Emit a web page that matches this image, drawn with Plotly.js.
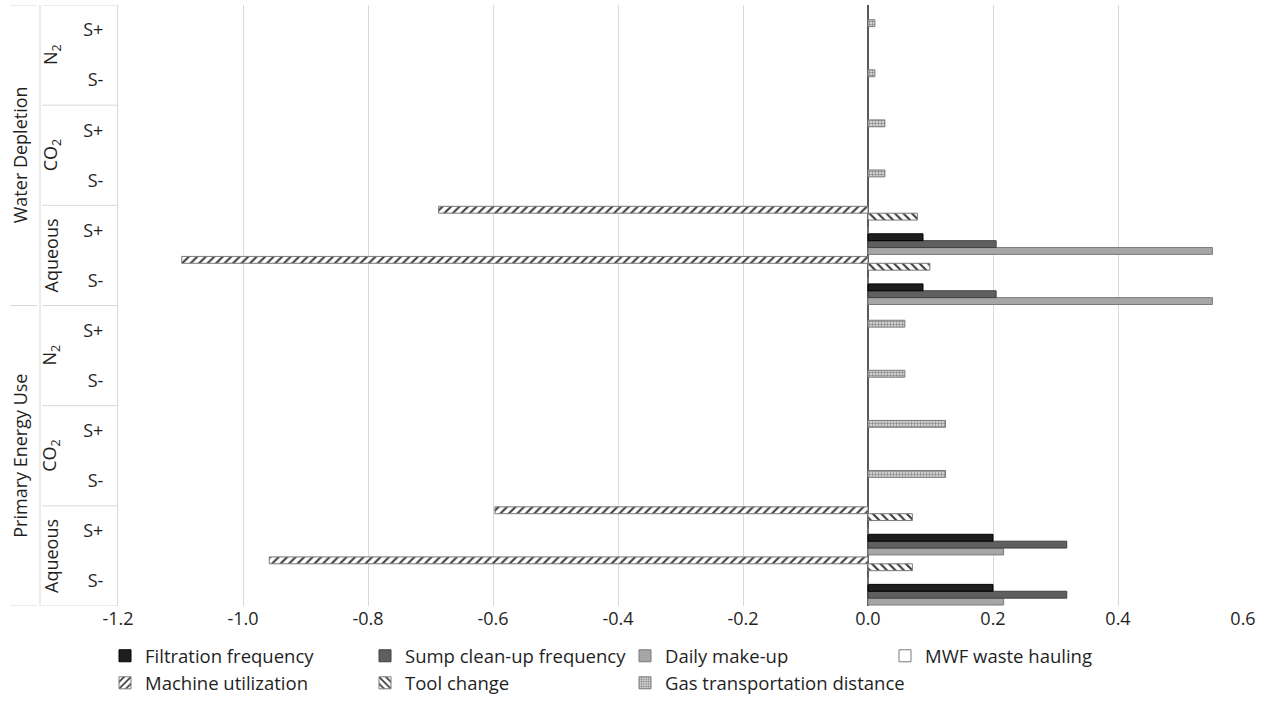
<!DOCTYPE html>
<html>
<head>
<meta charset="utf-8">
<script src="https://cdn.plot.ly/plotly-3.0.1.min.js"></script>
<style>html,body{margin:0;padding:0;background:#fff;}#chart{width:1274px;height:722px;}</style>
</head>
<body>
<div id="chart"></div>
<script>
// Category rows, listed bottom to top
const impactOfRow   = ['Primary Energy Use','Primary Energy Use','Primary Energy Use','Primary Energy Use','Primary Energy Use','Primary Energy Use',
                       'Water Depletion','Water Depletion','Water Depletion','Water Depletion','Water Depletion','Water Depletion'];
const fluidOfRow    = ['Aqueous','Aqueous','CO2','CO2','N2','N2','Aqueous','Aqueous','CO2','CO2','N2','N2'];
const scenarioOfRow = ['S-','S+','S-','S+','S-','S+','S-','S+','S-','S+','S-','S+'];

const impactNames = ['Primary Energy Use','Water Depletion'];
const fluidNames  = ['Aqueous','CO<sub>2</sub>','N<sub>2</sub>'];

const xTickVals  = [-1.2,-1.0,-0.8,-0.6,-0.4,-0.2,0.0,0.2,0.4,0.6];
const xTickText  = ['-1.2','-1.0','-0.8','-0.6','-0.4','-0.2','0.0','0.2','0.4','0.6'];

// Series values (same row order)
const filtration = [0.200, 0.200, null, null, null, null, 0.088, 0.088, null, null, null, null];
const sump       = [0.318, 0.318, null, null, null, null, 0.205, 0.205, null, null, null, null];
const dailyMakeup= [0.217, 0.217, null, null, null, null, 0.551, 0.551, null, null, null, null];
const mwfHauling = [0, 0, null, null, null, null, 0, 0, null, null, null, null];
const machineUtil= [-0.958, -0.597, null, null, null, null, -1.098, -0.687, null, null, null, null];
const toolChange = [0.071, 0.071, null, null, null, null, 0.099, 0.079, null, null, null, null];
const gasTransport=[null, null, 0.124, 0.124, 0.059, 0.059, null, null, 0.027, 0.027, 0.011, 0.011];

const rowKeys = impactOfRow.map((imp,i)=> imp+' | '+fluidOfRow[i]+' | '+scenarioOfRow[i]);

function bar(name, vals, rank, marker){
  return {type:'bar', orientation:'h', name:name, x:vals, y:rowKeys,
          legendrank:rank, marker:marker, hoverinfo:'skip'};
}
// drawing order bottom -> top inside each row
const traces = [
  bar('Daily make-up', dailyMakeup, 3, {color:'#a6a6a6', line:{color:'#7a7a7a', width:1}}),
  bar('Sump clean-up frequency', sump, 2, {color:'#5f5f5f', line:{color:'#404040', width:1}}),
  bar('Filtration frequency', filtration, 1, {color:'#1e1e1e', line:{color:'#000', width:1}}),
  bar('MWF waste hauling', mwfHauling, 4, {color:'#ffffff', line:{color:'#7a7a7a', width:1}}),
  bar('Gas transportation distance', gasTransport, 7, {color:'#ffffff', line:{color:'#7a7a7a', width:1},
      pattern:{shape:'.', fgcolor:'#8a8a8a', bgcolor:'#e6e6e6', size:3, solidity:0.5}}),
  bar('Tool change', toolChange, 6, {color:'#ffffff', line:{color:'#7a7a7a', width:1},
      pattern:{shape:'\\', fgcolor:'#3a3a3a', bgcolor:'#ffffff', size:6, solidity:0.35}}),
  bar('Machine utilization', machineUtil, 5, {color:'#ffffff', line:{color:'#7a7a7a', width:1},
      pattern:{shape:'/', fgcolor:'#3a3a3a', bgcolor:'#ffffff', size:6, solidity:0.35}})
];

const L = 118, R = 1243, W = R - L;
const px = v => (v - L) / W;

const shapes = [];
const lineStyle = {color:'#d9d9d9', width:1};
// separators between fluid groups
for (let b = -0.5; b <= 11.5; b += 2) {
  shapes.push({type:'line', xref:'paper', yref:'y', x0:px(42), x1:0, y0:b, y1:b, line:lineStyle});
}
// separators between impact groups
[-0.5, 5.5, 11.5].forEach(b => {
  shapes.push({type:'line', xref:'paper', yref:'y', x0:px(10), x1:px(37), y0:b, y1:b, line:lineStyle});
});
shapes.push({type:'line', xref:'paper', yref:'y', x0:px(40), x1:px(40), y0:-0.5, y1:11.5, line:lineStyle});

const annotations = [];
const txtFont = {family:'Open Sans, Noto Sans, sans-serif', size:18.5, color:'#1f1f1f'};
const tickFont = {family:'Open Sans, Noto Sans, sans-serif', size:18, color:'#1f1f1f'};
for (let g = 0; g < 6; g++) {
  annotations.push({xref:'paper', yref:'y', x:px(51), y:g*2+0.5, text:fluidNames[g%3],
    showarrow:false, textangle:-90, font:tickFont, xanchor:'center', yanchor:'middle'});
}
impactNames.forEach((n,i)=>{
  annotations.push({xref:'paper', yref:'y', x:px(20), y:i*6+2.5, text:n,
    showarrow:false, textangle:-90, font:tickFont, xanchor:'center', yanchor:'middle'});
});

const layout = {
  width:1274, height:722,
  margin:{l:L, r:1274-R, t:5, b:116},
  paper_bgcolor:'#fff', plot_bgcolor:'#fff',
  barmode:'group', bargap:0.04, bargroupgap:0,
  font:txtFont,
  xaxis:{range:[-1.2,0.6], tickvals:xTickVals, ticktext:xTickText, showgrid:true,
         gridcolor:'#d9d9d9', gridwidth:1, zeroline:true, zerolinecolor:'#595959', zerolinewidth:1.5,
         showline:false, ticks:'', tickfont:tickFont, fixedrange:true},
  yaxis:{type:'category', categoryorder:'array', categoryarray:rowKeys,
         tickvals:rowKeys, ticktext:scenarioOfRow, showgrid:false, zeroline:false,
         showline:true, linecolor:'#d9d9d9', linewidth:1, ticks:'', ticklabelstandoff:10,
         tickfont:tickFont, range:[-0.5,11.5], fixedrange:true},
  legend:{orientation:'h', x:px(105), xanchor:'left', y:-0.052, yanchor:'top',
          traceorder:'normal', entrywidth:215, entrywidthmode:'pixels',
          font:txtFont, itemclick:false, itemdoubleclick:false, tracegroupgap:0},
  shapes:shapes, annotations:annotations, showlegend:true
};

Plotly.newPlot('chart', traces, layout, {displayModeBar:false, staticPlot:true});
</script>
</body>
</html>
